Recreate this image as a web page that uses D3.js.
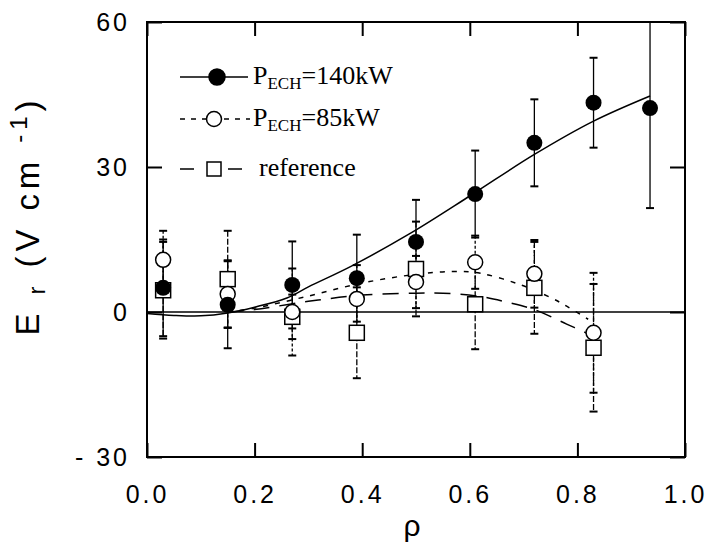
<!DOCTYPE html>
<html>
<head>
<meta charset="utf-8">
<script src="https://d3js.org/d3.v7.min.js"></script>
<style>
  body { margin: 0; background: #fff; }
  svg { display: block; }
  .tick text { font-family: "Liberation Sans", sans-serif; font-size: 25px; letter-spacing: 3px; fill: #000; }
  .tick line { stroke: #000; stroke-width: 2; }
  .domain { display: none; }
</style>
</head>
<body>
<div id="vis"></div>
<script>
// measured points
var rho = [0.03, 0.15, 0.27, 0.39, 0.50, 0.61, 0.72, 0.83, 0.935];
var er140 = [5, 1.5, 5.6, 7, 14.5, 24.4, 35, 43.3, 42.2];
var err140 = [10, 9, 9, 9, 8.7, 9, 9, 9.3, 20.7];

var rho85 = [0.03, 0.15, 0.27, 0.39, 0.50, 0.61, 0.72, 0.83];
var er85 = [10.8, 3.7, 0, 2.7, 6.2, 10.3, 7.9, -4.3];
var err85 = [6, 7, 9, 7, 5.4, 5.5, 7, 12.4];

var rhoRef = [0.03, 0.15, 0.27, 0.39, 0.50, 0.61, 0.72, 0.83];
var erRef = [4.5, 6.8, -1, -4.3, 8.9, 1.6, 5, -7.4];
var errRef = [10, 10, 4.6, 9.4, 9.8, 9.3, 9.5, 13.2];

// fitted curves
var fitRho140 = [0, 0.05, 0.1, 0.15, 0.2, 0.26, 0.3, 0.38, 0.49, 0.6, 0.72, 0.83, 0.935];
var fit140 = [-0.3, -0.7, -0.8, -0.2, 1, 2.9, 5.2, 9.5, 16.3, 24, 32.6, 39.5, 44.7];
var fitRho85 = [0.15, 0.2, 0.3, 0.4, 0.5, 0.57, 0.62, 0.69, 0.75, 0.78, 0.82];
var fit85 = [0, 0.8, 3.3, 6, 7.8, 8.4, 8, 5.8, 3, 1.2, -1.5];
var fitRhoRef = [0.15, 0.2, 0.3, 0.4, 0.5, 0.55, 0.62, 0.67, 0.72, 0.78, 0.82];
var fitRef = [0, 0.5, 2.2, 3.5, 3.9, 3.9, 3.2, 2, 0.5, -2.5, -4.5];

var xTicks = [0, 0.2, 0.4, 0.6, 0.8, 1.0];
var xTickLabels = ["0.0", "0.2", "0.4", "0.6", "0.8", "1.0"];
var yTicks = [-30, 0, 30, 60];
var yTickLabels = ["- 30", "0", "30", "60"];

var W = 708, H = 552;
var pLeft = 147, pRight = 685, pTop = 22, pBottom = 457;

var svg = d3.select("#vis").append("svg").attr("width", W).attr("height", H);

var x = d3.scaleLinear().domain([0, 1]).range([pLeft, pRight]);
var y = d3.scaleLinear().domain([-30, 60]).range([pBottom, pTop]);

// axes, ticks pointing inward
svg.append("g").attr("transform", "translate(0," + pBottom + ")")
  .call(d3.axisBottom(x).tickValues(xTicks).tickSize(-14).tickPadding(28)
    .tickFormat(function(d, i) { return xTickLabels[i]; }));
svg.append("g").attr("transform", "translate(0," + pTop + ")")
  .call(d3.axisTop(x).tickValues(xTicks).tickSize(-14).tickFormat(""));
svg.append("g").attr("transform", "translate(" + pLeft + ",0)")
  .call(d3.axisLeft(y).tickValues(yTicks).tickSize(-15).tickPadding(17)
    .tickFormat(function(d, i) { return yTickLabels[i]; }));
svg.append("g").attr("transform", "translate(" + pRight + ",0)")
  .call(d3.axisRight(y).tickValues(yTicks).tickSize(-15).tickFormat(""));

svg.append("rect").attr("x", pLeft).attr("y", pTop)
  .attr("width", pRight - pLeft).attr("height", pBottom - pTop)
  .attr("fill", "none").attr("stroke", "#000").attr("stroke-width", 2);

// zero line
svg.append("line").attr("x1", pLeft).attr("x2", pRight)
  .attr("y1", y(0)).attr("y2", y(0))
  .attr("stroke", "#000").attr("stroke-width", 1.5);

// fit curves
var line = d3.line().curve(d3.curveCatmullRom)
  .x(function(d) { return x(d[0]); }).y(function(d) { return y(d[1]); });

svg.append("path").datum(d3.zip(fitRho140, fit140)).attr("d", line)
  .attr("fill", "none").attr("stroke", "#000").attr("stroke-width", 1.5);
svg.append("path").datum(d3.zip(fitRho85, fit85)).attr("d", line)
  .attr("fill", "none").attr("stroke", "#000").attr("stroke-width", 1.5)
  .attr("stroke-dasharray", "5,7");
svg.append("path").datum(d3.zip(fitRhoRef, fitRef)).attr("d", line)
  .attr("fill", "none").attr("stroke", "#000").attr("stroke-width", 1.5)
  .attr("stroke-dasharray", "16,10");

// error bars
function errorBars(xs, ys, es, dash) {
  var g = svg.append("g").attr("stroke", "#000").attr("stroke-width", 1.3);
  xs.forEach(function(r, i) {
    var hi = Math.min(ys[i] + es[i], 60), lo = ys[i] - es[i];
    g.append("line").attr("x1", x(r)).attr("x2", x(r))
      .attr("y1", y(hi)).attr("y2", y(lo)).attr("stroke-dasharray", dash);
    if (ys[i] + es[i] < 60) {
      g.append("line").attr("x1", x(r) - 4).attr("x2", x(r) + 4)
        .attr("y1", y(hi)).attr("y2", y(hi)).attr("stroke-width", 2);
    }
    g.append("line").attr("x1", x(r) - 4).attr("x2", x(r) + 4)
      .attr("y1", y(lo)).attr("y2", y(lo)).attr("stroke-width", 2);
  });
}
errorBars(rhoRef, erRef, errRef, "6,2");
errorBars(rho85, er85, err85, "3,2");
errorBars(rho, er140, err140, null);

// markers: reference squares, then 85 kW circles, then 140 kW dots
svg.selectAll(".sq").data(d3.zip(rhoRef, erRef)).enter().append("rect")
  .attr("x", function(d) { return x(d[0]) - 7.5; })
  .attr("y", function(d) { return y(d[1]) - 7.5; })
  .attr("width", 15).attr("height", 15)
  .attr("fill", "#fff").attr("stroke", "#000").attr("stroke-width", 1.5);
svg.selectAll(".oc").data(d3.zip(rho85, er85)).enter().append("circle")
  .attr("cx", function(d) { return x(d[0]); })
  .attr("cy", function(d) { return y(d[1]); })
  .attr("r", 7.5).attr("fill", "#fff").attr("stroke", "#000").attr("stroke-width", 1.5);
svg.selectAll(".fc").data(d3.zip(rho, er140)).enter().append("circle")
  .attr("cx", function(d) { return x(d[0]); })
  .attr("cy", function(d) { return y(d[1]); })
  .attr("r", 8).attr("fill", "#000");

// legend
var lg = svg.append("g").attr("stroke", "#000").attr("stroke-width", 1.5);
lg.append("line").attr("x1", 180).attr("x2", 248).attr("y1", 77).attr("y2", 77);
lg.append("circle").attr("cx", 217).attr("cy", 77).attr("r", 8).attr("fill", "#000");
lg.append("line").attr("x1", 180).attr("x2", 250).attr("y1", 119).attr("y2", 119)
  .attr("stroke-dasharray", "5,6");
lg.append("circle").attr("cx", 214).attr("cy", 119).attr("r", 7.5).attr("fill", "#fff");
lg.append("line").attr("x1", 180).attr("x2", 246).attr("y1", 169).attr("y2", 169)
  .attr("stroke-dasharray", "14,18,6,10");
lg.append("rect").attr("x", 207).attr("y", 162).attr("width", 14).attr("height", 14)
  .attr("fill", "#fff");

function legendText(yb, xb, sub, rest) {
  var t = svg.append("text").attr("x", xb).attr("y", yb)
    .attr("font-family", "'Liberation Serif', serif").attr("font-size", 26);
  if (sub) {
    t.append("tspan").text("P");
    t.append("tspan").attr("font-size", 17).attr("dy", 5).text(sub);
    t.append("tspan").attr("dy", -5).text(rest);
  } else {
    t.text(rest);
  }
}
legendText(84, 253, "ECH", "=140kW");
legendText(126, 253, "ECH", "=85kW");
legendText(176, 259, null, "reference");

// axis titles
var yl = svg.append("text").attr("transform", "translate(39,218) rotate(-90)")
  .attr("text-anchor", "middle")
  .attr("font-family", "'Liberation Sans', sans-serif").attr("font-size", 33)
  .attr("textLength", 235).attr("lengthAdjust", "spacing");
yl.append("tspan").text("E ");
yl.append("tspan").attr("font-size", 24).attr("dy", 6).text("r");
yl.append("tspan").attr("dy", -6).text(" (V cm ");
yl.append("tspan").attr("font-size", 24).attr("dy", -12).text("-1");
yl.append("tspan").attr("dy", 12).text(")");

svg.append("text").attr("x", 412).attr("y", 536).attr("text-anchor", "middle")
  .attr("font-family", "'Liberation Sans', sans-serif").attr("font-size", 30)
  .text("ρ");
</script>
</body>
</html>
